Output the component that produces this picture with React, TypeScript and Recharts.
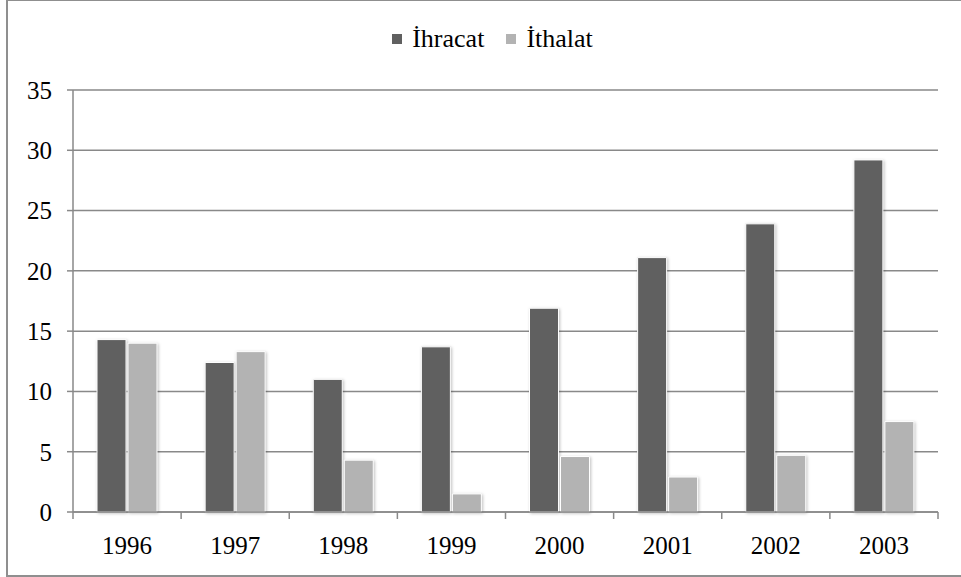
import { BarChart, Bar, XAxis, YAxis, CartesianGrid, Legend, Rectangle } from 'recharts';

const years = ['1996', '1997', '1998', '1999', '2000', '2001', '2002', '2003'];
const ihracat = [14.3, 12.4, 11.0, 13.7, 16.9, 21.1, 23.9, 29.2];
const ithalat = [14.0, 13.3, 4.3, 1.5, 4.6, 2.9, 4.7, 7.5];
const yTicks = [0, 5, 10, 15, 20, 25, 30, 35];

const data = years.map((year, i) => ({
  year,
  ihracat: ihracat[i],
  ithalat: ithalat[i]
}));

const FONT = '"Liberation Serif", "Times New Roman", serif';
const AXIS = '#898989';

// x labels at the band centre, tick marks between the bands (as Excel does)
function YearTick(props: any) {
  const { x, y, payload, index, visibleTicksCount } = props;
  const axisY = y - 24;
  const half = payload.offset;
  return (
    <g>
      <line x1={x - half} x2={x - half} y1={axisY} y2={axisY + 7} stroke={AXIS} strokeWidth={1.5} />
      {index === visibleTicksCount - 1 && (
        <line x1={x + half} x2={x + half} y1={axisY} y2={axisY + 7} stroke={AXIS} strokeWidth={1.5} />
      )}
      <text x={x} y={y} dy="0.71em" textAnchor="middle" fill="#000" fontSize={25} fontFamily={FONT}>
        {payload.value}
      </text>
    </g>
  );
}

function LegendBox(props: any) {
  const { payload } = props;
  return (
    <div style={{ display: 'flex', justifyContent: 'center', alignItems: 'center', gap: 22, paddingLeft: 24, fontFamily: FONT, fontSize: 26, height: 30 }}>
      {payload.map((item: any) => (
        <div key={item.value} style={{ display: 'flex', alignItems: 'center' }}>
          <span style={{ display: 'inline-block', width: 10, height: 10, background: item.color, marginRight: 10 }} />
          <span style={{ color: '#000' }}>{item.value}</span>
        </div>
      ))}
    </div>
  );
}

const shadowBar = (props: any) => (
  <Rectangle {...props} style={{ filter: 'drop-shadow(1px 1px 1.5px rgba(0,0,0,0.25))' }} />
);

export default function App() {
  return (
    <div style={{ position: 'absolute', left: 0, top: 0, width: 961, height: 577, overflow: 'hidden', background: '#fff' }}>
      <div style={{ position: 'absolute', left: 6, top: -1, width: 1000, height: 574, border: '2px solid #8f8f8f' }} />
      <div style={{ position: 'absolute', left: 0, top: 0 }}>
        <BarChart
          width={961}
          height={577}
          data={data}
          margin={{ top: 60, right: 23, bottom: 25, left: 13 }}
          barCategoryGap={24}
          barGap={2}
        >
          <CartesianGrid vertical={false} stroke={AXIS} strokeWidth={1.5} />
          <XAxis
            dataKey="year"
            stroke={AXIS}
            strokeWidth={1.5}
            tickLine={false}
            tickSize={6}
            tickMargin={18}
            height={40}
            tick={<YearTick />}
            interval={0}
          />
          <YAxis
            domain={[0, 35]}
            ticks={yTicks}
            width={60}
            stroke={AXIS}
            strokeWidth={1.5}
            tickSize={6}
            tickMargin={15}
            tick={{ fill: '#000', fontSize: 25, fontFamily: FONT }}
          />
          <Legend
            verticalAlign="top"
            height={30}
            content={<LegendBox />}
            wrapperStyle={{ top: 24, left: 0, width: 961 }}
          />
          <Bar dataKey="ihracat" name="İhracat" fill="#606060" stroke="#fff" strokeWidth={1} shape={shadowBar} isAnimationActive={false} />
          <Bar dataKey="ithalat" name="İthalat" fill="#b3b3b3" stroke="#fff" strokeWidth={1} shape={shadowBar} isAnimationActive={false} />
        </BarChart>
      </div>
    </div>
  );
}
